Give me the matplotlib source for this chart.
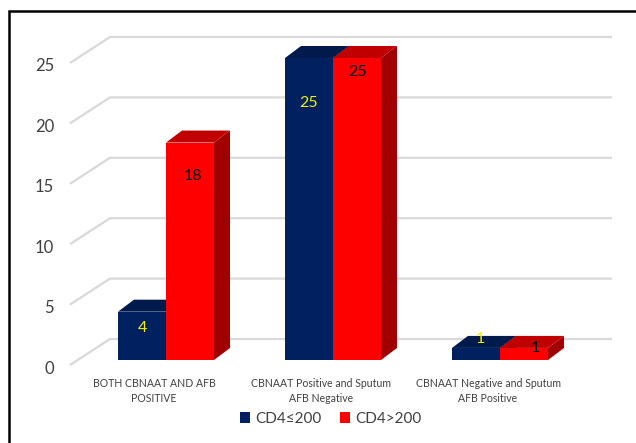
import matplotlib
matplotlib.use("Agg")
import matplotlib.pyplot as plt
from matplotlib.patches import Polygon, Rectangle, Patch
from matplotlib.lines import Line2D

plt.rcParams['font.family'] = ['Lato', 'DejaVu Sans']

# ---- data ----
categories = ["BOTH CBNAAT AND AFB\nPOSITIVE",
              "CBNAAT Positive and Sputum\nAFB Negative",
              "CBNAAT Negative and Sputum\nAFB Positive"]
series_names = ["CD4\u2264200", "CD4>200"]
cd4_low = [4, 25, 1]
cd4_high = [18, 25, 1]
y_ticks = [0, 5, 10, 15, 20, 25]

# ---- styling ----
front_colors = ["#002060", "#FF0000"]
top_colors = ["#001a4c", "#C00000"]
side_colors = ["#00153d", "#A00000"]
label_colors = ["#F2F200", "#000000"]
grid_color = "#D9D9D9"
text_color = "#404040"

W, H, DPI = 636, 443, 100
fig = plt.figure(figsize=(W / DPI, H / DPI), dpi=DPI)
ax = fig.add_axes([0, 0, 1, 1])
ax.set_axis_off()

# pixel geometry of the projection
px_per_cat = 167.0
px_per_unit = 12.08
origin_px = (166.0, 360.0)   # front face base of first group
ax.set_xlim(-origin_px[0] / px_per_cat, (W - origin_px[0]) / px_per_cat)
ax.set_ylim(-(H - origin_px[1]) / px_per_unit, origin_px[1] / px_per_unit)


def dx(px):
    return px / px_per_cat


def dy(px):
    return px / px_per_unit


bar_w = dx(48)
depth = (dx(16), dy(12))           # bar depth offset
wall_front_x = dx(70 - 166)
wall_front_dy = -dy(5)
wall_depth = (dx(40), dy(26))
wall_right = dx(612 - 166)

# walls: side-wall diagonals and back-wall horizontals
for v in y_ticks:
    y0 = v + wall_front_dy
    xs = [wall_front_x, wall_front_x + wall_depth[0], wall_right]
    ys = [y0, y0 + wall_depth[1], y0 + wall_depth[1]]
    ax.plot(xs, ys, color=grid_color, lw=1.6, zorder=1, solid_capstyle='butt')
    ax.text(dx(54 - 166), y0 - dy(3.5), str(v), ha='right', va='center',
            fontsize=12, color=text_color)


def draw_bar(x_left, h, k):
    x_right = x_left + bar_w
    ddx, ddy = depth
    front = Rectangle((x_left, 0), bar_w, h, facecolor=front_colors[k],
                      edgecolor='none', zorder=3)
    top = Polygon([(x_left, h), (x_right, h), (x_right + ddx, h + ddy),
                   (x_left + ddx, h + ddy)], closed=True,
                  facecolor=top_colors[k], edgecolor='none', zorder=3)
    side = Polygon([(x_right, 0), (x_right + ddx, ddy),
                    (x_right + ddx, h + ddy), (x_right, h)], closed=True,
                   facecolor=side_colors[k], edgecolor='none', zorder=3)
    for p in (side, top, front):
        ax.add_patch(p)


# data-label offsets (value units / pixels) for readability
label_dy = [[-1.35, -3.73, 0.74], [-2.77, -1.16, 0.0]]
label_dx_px = [[0, 0, 4], [3, 1, 11]]

for i in range(len(categories)):
    for k, vals in enumerate([cd4_low, cd4_high]):
        x_left = i - bar_w + k * bar_w
        draw_bar(x_left, vals[i], k)
    for k, vals in enumerate([cd4_low, cd4_high]):
        x_left = i - bar_w + k * bar_w
        ax.text(x_left + bar_w / 2 + dx(label_dx_px[k][i]),
                vals[i] + label_dy[k][i], str(vals[i]),
                ha='center', va='center', fontsize=11.5,
                color=label_colors[k], zorder=5)
    ax.text(i - dx(12), -dy(18), categories[i], ha='center', va='top',
            fontsize=7.6, color=text_color, linespacing=1.5)

handles = [Patch(facecolor=front_colors[k], edgecolor='none')
           for k in range(2)]
fig.legend(handles, series_names, loc='center',
           bbox_to_anchor=(331 / W, 1 - 419 / H), ncol=2, frameon=False,
           fontsize=11, handlelength=0.65, handleheight=0.75,
           handletextpad=0.35, columnspacing=1.2,
           labelcolor=text_color)

# outer frame (left and top edges)
fig.add_artist(Line2D([8.5 / W, 8.5 / W, 1.0],
                      [0.0, 1 - 11 / H, 1 - 11 / H],
                      transform=fig.transFigure, color='black', lw=1.8,
                      solid_joinstyle='miter'))

fig.savefig("out.png", dpi=DPI)
